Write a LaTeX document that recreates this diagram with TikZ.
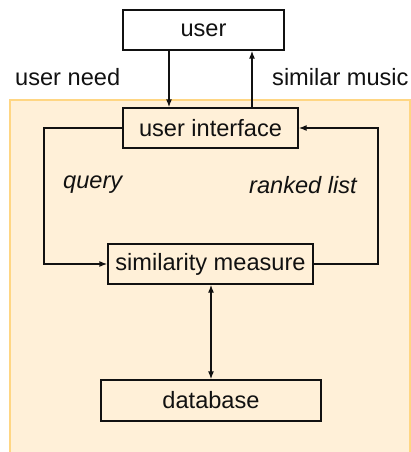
\documentclass[tikz,border=0pt]{standalone}
\usepackage{fontspec}
\setmainfont{Liberation Sans}
\usetikzlibrary{arrows.meta}
\definecolor{bgfill}{HTML}{FFF0D8}
\definecolor{bgline}{HTML}{FFD683}
\definecolor{ink}{HTML}{111111}
\begin{document}
\begin{tikzpicture}[x=1pt,y=-1pt,
  box/.style={draw=ink, line width=1.3pt, minimum height=40pt, inner sep=0pt, text=ink,
    font=\fontsize{23.6}{28}\selectfont},
  lbl/.style={text=ink, inner sep=0pt, font=\fontsize{23.6}{28}\selectfont},
  ilbl/.style={lbl, font=\fontsize{23.6}{28}\selectfont\itshape},
  conn/.style={draw=ink, line width=1.3pt},
  arr/.style={conn, -{Latex[length=8pt,width=6pt]}},
  darr/.style={conn, {Latex[length=8pt,width=6pt]}-{Latex[length=8pt,width=6pt]}}]
\useasboundingbox (0,0) rectangle (411,452);
\fill[bgfill] (10,100) rectangle (410,452);
\draw[bgline, line width=1.3pt] (10,452) -- (10,100) -- (410,100) -- (410,452);
\node[box, fill=white, minimum width=161pt] (user) at (203.5,30) {user};
\node[box, minimum width=175pt] (ui) at (210.5,128) {user interface};
\node[box, minimum width=205pt] (sim) at (210.5,264) {similarity measure};
\node[box, minimum width=220pt, minimum height=41pt] (db) at (211,400.5) {database};
\node[lbl, anchor=west] (need) at (15,77) {user need};
\node[lbl, anchor=west] (music) at (272,77) {similar music};
\node[ilbl, anchor=west] (query) at (63,185) {query};
\node[ilbl, anchor=west] (ranked) at (249,185) {ranked list};
\coordinate (xa) at (169,0);
\coordinate (xb) at (252,0);
\coordinate (xl) at (44,0);
\coordinate (xr) at (378,0);
\coordinate (xd) at (211,0);
\draw[arr] (user.south -| xa) -- (ui.north -| xa);
\draw[arr] (ui.north -| xb) -- (user.south -| xb);
\draw[arr] (ui.west) -- (ui.west -| xl) -- (sim.west -| xl) -- (sim.west);
\draw[arr] (sim.east) -- (sim.east -| xr) -- (ui.east -| xr) -- (ui.east);
\draw[darr] (sim.south -| xd) -- (db.north -| xd);
\end{tikzpicture}
\end{document}
